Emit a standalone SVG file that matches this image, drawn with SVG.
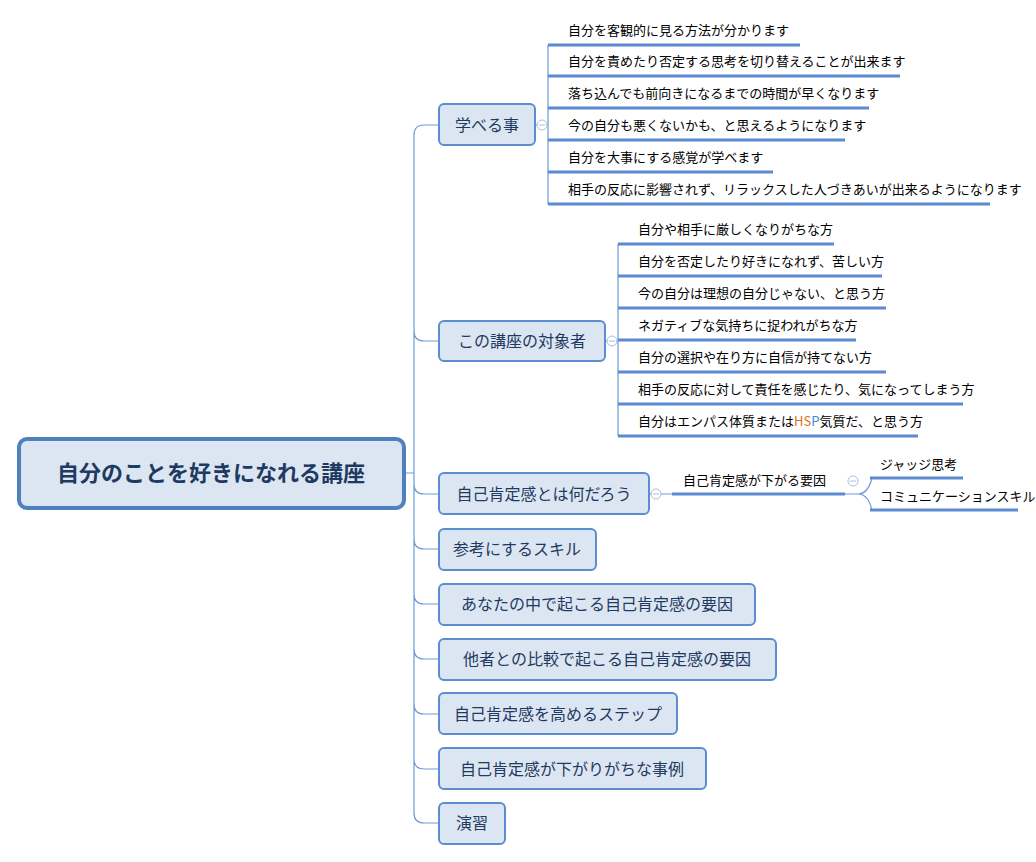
<svg xmlns="http://www.w3.org/2000/svg" width="1036" height="862" viewBox="0 0 1036 862">
<style>
text{font-family:"Noto Sans CJK JP","Noto Sans CJK SC",sans-serif}
.l1 rect{fill:#DCE6F2;stroke:#5B8DD0;stroke-width:2}
.l1 text{font-size:16px;fill:#1F3A60}
.it{font-size:13px;fill:#000}
.ul{stroke:#5A8AD0;stroke-width:3}
.cn{fill:none;stroke:#6A9BD8;stroke-width:1.2}
.cc{fill:#fff;stroke:#A8C0E0;stroke-width:1}
</style>
<rect width="1036" height="862" fill="#fff"/>
<g id="connectors">
<path class="cn" d="M404 473H414 M414 135V813 M414 135Q414 125 424 125H439 M414 331Q414 341 424 341H439 M414 484Q414 494 424 494H439 M414 539Q414 549 424 549H439 M414 594Q414 604 424 604H439 M414 649Q414 659 424 659H439 M414 704Q414 714 424 714H439 M414 759Q414 769 424 769H439 M414 813Q414 823 424 823H439"/>
<path class="cn" d="M535 125H548 M548 45V204 M605 341H618 M618 244V436 M649 494H672 M845 494H858 Q868 494 872 478 M858 494Q868 494 872 510"/>
<path class="ul" d="M548 45H800 M548 76H900 M548 108H869 M548 140H845 M548 172H773 M548 204H990"/>
<path class="ul" d="M618 244H834 M618 276H882 M618 308H886 M618 340H856 M618 372H886 M618 404H963 M618 436H918"/>
<path class="ul" d="M672 494H845 M870 478H963 M870 510H1018"/>
<circle class="cc" cx="542" cy="125" r="5"/><circle class="cc" cx="612" cy="341" r="5"/><circle class="cc" cx="656" cy="494" r="5"/><circle class="cc" cx="853" cy="481" r="5"/>
<path d="M539 125h6 M609 341h6 M653 494h6 M850 481h6" stroke="#A8C0E0"/>
</g>
<g id="root"><rect x="19" y="439" width="385" height="69" rx="8" fill="#DCE6F2" stroke="#4F81BD" stroke-width="4"/><text x="211" y="481" text-anchor="middle" font-size="22" font-weight="bold" fill="#1F3A60">自分のことを好きになれる講座</text></g>
<g id="n1" class="l1"><rect x="439" y="104" width="96" height="41" rx="5"/><text x="487" y="131" text-anchor="middle">学べる事</text></g>
<g id="n2" class="l1"><rect x="439" y="321" width="166" height="40" rx="5"/><text x="522" y="347" text-anchor="middle">この講座の対象者</text></g>
<g id="n3" class="l1"><rect x="439" y="473" width="210" height="41" rx="5"/><text x="544" y="500" text-anchor="middle">自己肯定感とは何だろう</text></g>
<g id="n4" class="l1"><rect x="439" y="529" width="157" height="41" rx="5"/><text x="517" y="555" text-anchor="middle">参考にするスキル</text></g>
<g id="n5" class="l1"><rect x="439" y="584" width="316" height="41" rx="5"/><text x="597" y="610" text-anchor="middle">あなたの中で起こる自己肯定感の要因</text></g>
<g id="n6" class="l1"><rect x="439" y="639" width="337" height="41" rx="5"/><text x="607" y="665" text-anchor="middle">他者との比較で起こる自己肯定感の要因</text></g>
<g id="n7" class="l1"><rect x="439" y="693" width="238" height="41" rx="5"/><text x="558" y="720" text-anchor="middle">自己肯定感を高めるステップ</text></g>
<g id="n8" class="l1"><rect x="439" y="748" width="267" height="41" rx="5"/><text x="572" y="775" text-anchor="middle">自己肯定感が下がりがちな事例</text></g>
<g id="n9" class="l1"><rect x="439" y="803" width="66" height="41" rx="5"/><text x="472" y="829" text-anchor="middle">演習</text></g>
<g id="items1" class="it">
<text class="it" x="568" y="35">自分を客観的に見る方法が分かります</text>
<text class="it" x="568" y="66">自分を責めたり否定する思考を切り替えることが出来ます</text>
<text class="it" x="568" y="98">落ち込んでも前向きになるまでの時間が早くなります</text>
<text class="it" x="568" y="130">今の自分も悪くないかも、と思えるようになります</text>
<text class="it" x="568" y="162">自分を大事にする感覚が学べます</text>
<text class="it" x="568" y="194">相手の反応に影響されず、リラックスした人づきあいが出来るようになります</text>
</g>
<g id="items2">
<text class="it" x="638" y="234">自分や相手に厳しくなりがちな方</text>
<text class="it" x="638" y="266">自分を否定したり好きになれず、苦しい方</text>
<text class="it" x="638" y="298">今の自分は理想の自分じゃない、と思う方</text>
<text class="it" x="638" y="330">ネガティブな気持ちに捉われがちな方</text>
<text class="it" x="638" y="362">自分の選択や在り方に自信が持てない方</text>
<text class="it" x="638" y="394">相手の反応に対して責任を感じたり、気になってしまう方</text>
<text class="it" x="638" y="426">自分はエンパス体質または<tspan fill="#E07020">HS</tspan><tspan fill="#3A8FD0">P</tspan>気質だ、と思う方</text>
</g>
<g id="items3">
<text class="it" x="683" y="485">自己肯定感が下がる要因</text>
<text class="it" x="880" y="469">ジャッジ思考</text>
<text class="it" x="880" y="501">コミュニケーションスキル</text>
</g>
</svg>
